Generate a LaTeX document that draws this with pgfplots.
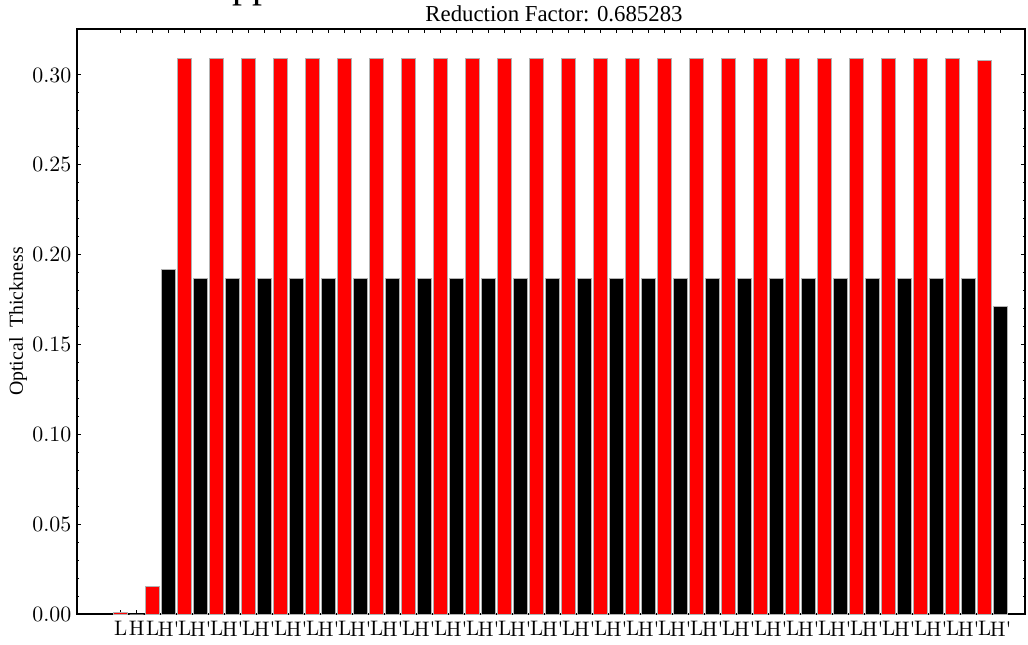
\documentclass[border=0pt]{standalone}
\usepackage{fontspec}
\usepackage{pgfplots}
\pgfplotsset{compat=1.18}
\newfontfamily\timesfont{Liberation Serif}

\def\Hp{H\textquotesingle}

\begin{document}
\begin{tikzpicture}
\begin{axis}[
  name=ax,
  scale only axis,
  width=474pt, height=292.5pt,
  xmin=-2.73, xmax=56.52,
  ymin=0, ymax=0.3256,
  axis line style={line width=0.55pt},
  tick align=inside,
  major tick length=2.2pt,
  minor tick length=1.1pt,
  tick style={black, line width=0.5pt},
  xtick={0,...,55},
  xticklabels={L,H,L,\Hp,L,\Hp,L,\Hp,L,\Hp,L,\Hp,L,\Hp,L,\Hp,L,\Hp,L,\Hp,
               L,\Hp,L,\Hp,L,\Hp,L,\Hp,L,\Hp,L,\Hp,L,\Hp,L,\Hp,L,\Hp,L,\Hp,
               L,\Hp,L,\Hp,L,\Hp,L,\Hp,L,\Hp,L,\Hp,L,\Hp,L,\Hp},
  xticklabel style={font=\fontsize{10.5}{12}\selectfont, inner sep=0pt, yshift=-3.6pt},
  ytick={0,0.05,...,0.31},
  minor y tick num=4,
  yticklabel style={font=\fontsize{10.7}{12}\selectfont, /pgf/number format/fixed,
    /pgf/number format/fixed zerofill, /pgf/number format/precision=2,
    inner sep=0pt, xshift=-2.6pt},
  scaled y ticks=false,
  xtick pos=both, ytick pos=both,
  xticklabel pos=lower, yticklabel pos=left,
  ylabel={Optical\ \ Thickness},
  every axis y label/.style={at={(axis description cs:-0.0622,0.5)}, rotate=90,
    anchor=center, font=\timesfont\fontsize{9.9}{11}\selectfont},
  clip=false,
]
% L levels (red) and H levels (black), one bar per tick
\addplot[ybar, bar shift=0pt, bar width=0.875, fill=red, draw=black!30, line width=0.4pt]
  coordinates {
  (0,0.0009) (2,0.0152) (4,0.3093) (6,0.3093) (8,0.3093) (10,0.3093)
  (12,0.3093) (14,0.3093) (16,0.3093) (18,0.3093) (20,0.3093) (22,0.3093)
  (24,0.3093) (26,0.3093) (28,0.3093) (30,0.3093) (32,0.3093) (34,0.3093)
  (36,0.3093) (38,0.3093) (40,0.3093) (42,0.3093) (44,0.3093) (46,0.3093)
  (48,0.3093) (50,0.3093) (52,0.3093) (54,0.3083)
  };
\addplot[ybar, bar shift=0pt, bar width=0.875, fill=black, draw=black!30, line width=0.4pt]
  coordinates {
  (1,0) (3,0.1920) (5,0.1868) (7,0.1868) (9,0.1868) (11,0.1868)
  (13,0.1868) (15,0.1868) (17,0.1868) (19,0.1868) (21,0.1868) (23,0.1868)
  (25,0.1868) (27,0.1868) (29,0.1868) (31,0.1868) (33,0.1868) (35,0.1868)
  (37,0.1868) (39,0.1868) (41,0.1868) (43,0.1868) (45,0.1868) (47,0.1868)
  (49,0.1868) (51,0.1868) (53,0.1868) (55,0.1714)
  };
\end{axis}
% titles
\node[anchor=base, inner sep=0pt, font=\timesfont\fontsize{11.4}{13}\selectfont]
  at ([xshift=1.5pt, yshift=3.8pt]ax.north) {Reduction Factor: 0.685283};
\node[anchor=base west, inner sep=0pt, font=\timesfont\fontsize{20}{24}\selectfont]
  at ([xshift=63pt, yshift=15.5pt]ax.north west) {Approximation};
\pgfresetboundingbox
\useasboundingbox ([xshift=-38.5pt, yshift=-15pt]ax.south west)
  rectangle ([xshift=1.5pt, yshift=14.5pt]ax.north east);
\end{tikzpicture}
\end{document}
